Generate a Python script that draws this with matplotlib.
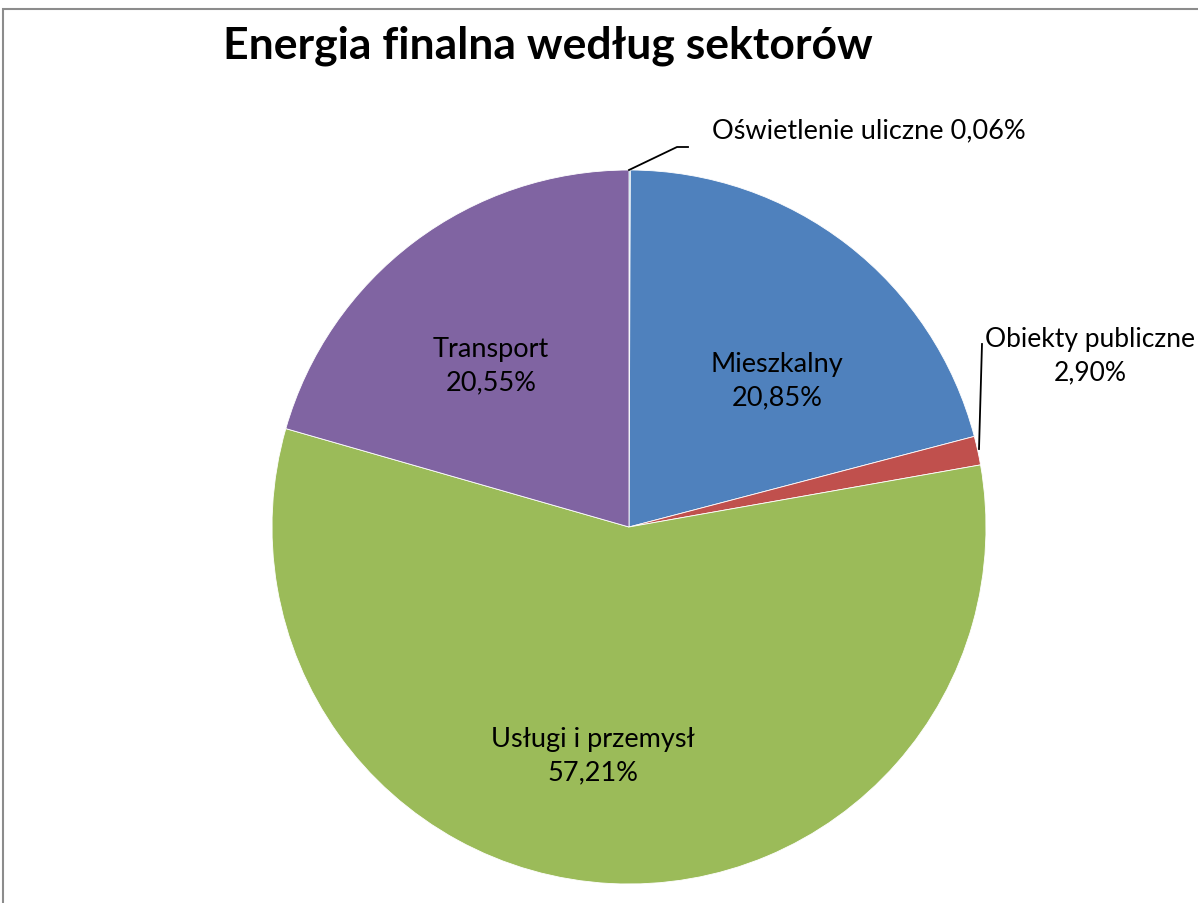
import matplotlib.pyplot as plt
from matplotlib.patches import Rectangle

# Sectors, clockwise from the top
sectors = ["Oświetlenie uliczne", "Mieszkalny", "Obiekty publiczne", "Usługi i przemysł", "Transport"]
# slice sizes as drawn (the red slice is drawn smaller than its label says)
shares = [0.06, 20.85, 1.3, 57.21, 20.55]
pct_labels = ["0,06%", "20,85%", "2,90%", "57,21%", "20,55%"]
colors = ["#4BACC6", "#4F81BD", "#C0504D", "#9BBB59", "#8064A2"]

W, H = 1198, 904
plt.rcParams['font.family'] = ['Lato', 'DejaVu Sans']

fig = plt.figure(figsize=(W / 100, H / 100), dpi=100)
ax = fig.add_axes([0, 0, 1, 1])
ax.set_xlim(0, W)
ax.set_ylim(0, H)
ax.set_aspect('equal')
ax.axis('off')

# chart frame (cut off at right and bottom)
ax.add_patch(Rectangle((3, -20), W + 20, H - 10 + 20, fill=False, edgecolor="#8c8c8c", lw=1.5))

cx, cy, r = 629, H - 528, 357
ax.pie(shares, colors=colors, startangle=90, counterclock=False, center=(cx, cy), radius=r,
       wedgeprops=dict(edgecolor="white", linewidth=0.6))
ax.set_xlim(0, W)
ax.set_ylim(0, H)

ax.text(548, H - 46, "Energia finalna według sektorów", ha="center", va="center",
        fontsize=32, fontweight="bold")

fs = 19.5
ls = 1.4
# inside labels
ax.text(777, H - 381, f"{sectors[1]}\n{pct_labels[1]}", ha="center", va="center", fontsize=fs, linespacing=ls)
ax.text(491, H - 366, f"{sectors[4]}\n{pct_labels[4]}", ha="center", va="center", fontsize=fs, linespacing=ls)
ax.text(593, H - 756, f"{sectors[3]}\n{pct_labels[3]}", ha="center", va="center", fontsize=fs, linespacing=ls)

# outside labels with leader lines
ax.text(869, H - 131, f"{sectors[0]} {pct_labels[0]}", ha="center", va="center", fontsize=fs)
ax.plot([629, 677, 688], [H - 171, H - 148, H - 148], color="black", lw=1.3)
ax.text(1090, H - 356, f"{sectors[2]}\n{pct_labels[2]}", ha="center", va="center", fontsize=19, linespacing=ls)
ax.plot([979, 982], [H - 450, H - 345], color="black", lw=1.3)

fig.savefig("out.png", dpi=100)
plt.close(fig)
